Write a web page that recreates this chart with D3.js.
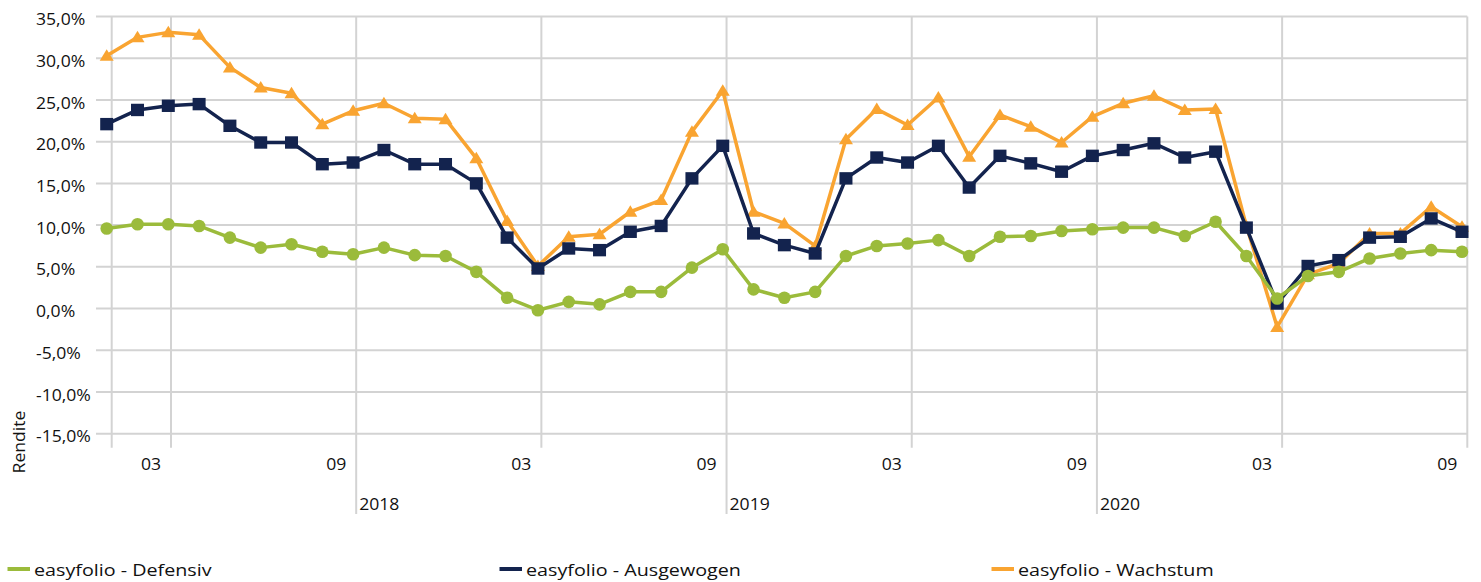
<!DOCTYPE html>
<html>
<head>
<meta charset="utf-8">
<script src="https://cdn.jsdelivr.net/npm/d3@7"></script>
<style>
  body { margin: 0; background: #fff; }
  text { font-family: 'Open Sans', sans-serif; fill: #111; font-size: 16px; }
</style>
</head>
<body>
<div id="chart"></div>
<script>
// 12-Monats-Rendite, Jan 2017 .. Sep 2020 (45 Punkte)
const defensiv = [9.6, 10.1, 10.1, 9.9, 8.5, 7.3, 7.7, 6.8, 6.5, 7.3, 6.4, 6.3, 4.4,
  1.3, -0.2, 0.8, 0.5, 2.0, 2.0, 4.9, 7.1, 2.3, 1.3, 2.0, 6.3, 7.5, 7.8, 8.2, 6.3,
  8.6, 8.7, 9.3, 9.5, 9.7, 9.7, 8.7, 10.4, 6.3, 1.2, 3.9, 4.4, 6.0, 6.6, 7.0, 6.8]
const ausgewogen = [22.1, 23.8, 24.3, 24.5, 21.9, 19.9, 19.9, 17.3, 17.5, 19.0, 17.3, 17.3, 15.0,
  8.5, 4.8, 7.2, 7.0, 9.2, 9.9, 15.6, 19.5, 9.0, 7.6, 6.6, 15.6, 18.1, 17.5, 19.5, 14.5,
  18.3, 17.4, 16.4, 18.3, 19.0, 19.8, 18.1, 18.8, 9.7, 0.6, 5.1, 5.8, 8.5, 8.6, 10.8, 9.2]
const wachstum = [30.3, 32.5, 33.1, 32.8, 28.9, 26.5, 25.8, 22.1, 23.7, 24.6, 22.8, 22.7, 18.0,
  10.5, 5.1, 8.6, 8.9, 11.6, 13.0, 21.2, 26.1, 11.6, 10.2, 7.5, 20.3, 23.9, 22.0, 25.3, 18.2,
  23.2, 21.8, 19.9, 23.0, 24.6, 25.5, 23.8, 23.9, 9.9, -2.2, 4.1, 5.4, 9.0, 9.0, 12.2, 9.8]

const seriesNames = ['easyfolio - Defensiv', 'easyfolio - Ausgewogen', 'easyfolio - Wachstum']
const seriesColors = ['#9bbb3b', '#13234e', '#f9a431']

const yTicks = [35, 30, 25, 20, 15, 10, 5, 0, -5, -10, -15]
const monthLabels = ['03', '09', '03', '09', '03', '09', '03', '09']
const monthIndex = [2, 8, 14, 20, 26, 32, 38, 44]
const yearLabels = ['2018', '2019', '2020']
const yearIndex = [8, 20, 32]

let width = 1481,
  height = 582

let svg = d3.select('#chart')
  .append('svg')
  .attr('width', width)
  .attr('height', height)

let de = d3.formatLocale({ decimal: ',', thousands: '.', grouping: [3], currency: ['', '€'], minus: '-' })
let fmt = v => de.format('.1f')(v) + '%'

// the original lettering is a bit wider than Open Sans
function place(xPos, yPos, rot, sx) {
  return `translate(${xPos},${yPos})` + (rot ? ` rotate(${rot})` : '') + ` scale(${sx || 1.1},1)`
}

let x = d3.scaleLinear().domain([0, 44]).range([106.7, 1462])
let xGrid = d3.scaleLinear().domain([2, 44]).range([171, 1467.3])
let y = d3.scaleLinear().domain([-15, 35]).range([433.7, 16.5])

let axisLeft = 111.7, axisRight = xGrid(44)
let grid = svg.append('g').attr('stroke', '#d3d3d3').attr('stroke-width', 2)

// horizontal gridlines
grid.selectAll('.hgrid')
  .data(yTicks)
  .enter()
  .append('line')
  .attr('x1', 96)
  .attr('x2', axisRight)
  .attr('y1', d => y(d))
  .attr('y2', d => y(d))

// vertical axis line
grid.append('line')
  .attr('x1', axisLeft).attr('x2', axisLeft)
  .attr('y1', y(35)).attr('y2', y(-15) + 14)

// vertical gridlines, year separators go further down
grid.selectAll('.vgrid')
  .data(monthIndex)
  .enter()
  .append('line')
  .attr('x1', d => xGrid(d))
  .attr('x2', d => xGrid(d))
  .attr('y1', y(35))
  .attr('y2', d => yearIndex.includes(d) ? 514 : y(-15) + 14)

svg.selectAll('.ylab')
  .data(yTicks)
  .enter()
  .append('text')
  .attr('transform', d => place(36, y(d) + 3))
  .attr('dy', '0.35em')
  .text(fmt)

svg.selectAll('.mlab')
  .data(monthLabels)
  .enter()
  .append('text')
  .attr('transform', (d, i) => place(xGrid(monthIndex[i]) - 20, 464))
  .attr('dy', '0.35em')
  .attr('text-anchor', 'middle')
  .text(d => d)

svg.selectAll('.yrlab')
  .data(yearLabels)
  .enter()
  .append('text')
  .attr('transform', (d, i) => place(xGrid(yearIndex[i]) + 3, 504))
  .attr('dy', '0.35em')
  .text(d => d)

svg.append('text')
  .attr('transform', place(19, 442, -90))
  .attr('text-anchor', 'middle')
  .attr('dy', '0.35em')
  .text('Rendite')

let line = d3.line()
  .x((d, i) => x(i))
  .y(d => y(d))

// Wachstum unten, Defensiv oben
let allSeries = [defensiv, ausgewogen, wachstum]
let drawOrder = [2, 1, 0]

drawOrder.forEach(k => {
  let g = svg.append('g')
  g.append('path')
    .datum(allSeries[k])
    .attr('d', line)
    .attr('fill', 'none')
    .attr('stroke', seriesColors[k])
    .attr('stroke-width', 3.5)
    .attr('stroke-linejoin', 'round')

  let pts = g.selectAll('.pt')
    .data(allSeries[k])
    .enter()
  if (k === 0) {
    pts.append('circle')
      .attr('cx', (d, i) => x(i))
      .attr('cy', d => y(d))
      .attr('r', 6.3)
      .attr('fill', seriesColors[k])
  } else if (k === 1) {
    pts.append('rect')
      .attr('x', (d, i) => x(i) - 6.5)
      .attr('y', d => y(d) - 6.2)
      .attr('width', 13)
      .attr('height', 12.4)
      .attr('fill', seriesColors[k])
  } else {
    pts.append('path')
      .attr('transform', (d, i) => `translate(${x(i)},${y(d)})`)
      .attr('d', 'M0,-6.5L7,5L-7,5Z')
      .attr('fill', seriesColors[k])
  }
})

// legend
let legend = svg.selectAll('.legend')
  .data(seriesNames)
  .enter()
  .append('g')
  .attr('transform', (d, i) => `translate(${7.5 + i * 492},569)`)

legend.append('line')
  .attr('x1', 0).attr('x2', 22.5)
  .attr('stroke', (d, i) => seriesColors[i])
  .attr('stroke-width', 4)

legend.append('text')
  .attr('transform', place(26.5, 1, 0, 1.16))
  .attr('dy', '0.35em')
  .style('font-size', '17px')
  .text(d => d)
</script>
</body>
</html>
